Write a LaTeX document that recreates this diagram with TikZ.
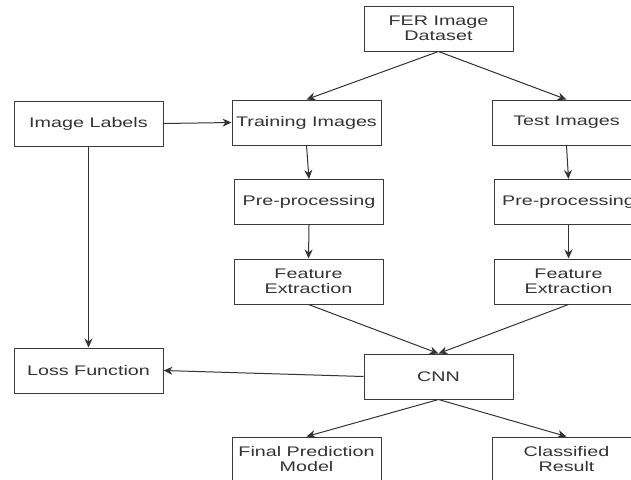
\documentclass[tikz,border=0pt]{standalone}
\usepackage{fontspec}
\setmainfont[FakeStretch=1.42]{Liberation Sans}
\usetikzlibrary{arrows.meta}
\definecolor{ink}{HTML}{333333}
\definecolor{edge}{HTML}{3A3A3A}
\begin{document}
\begin{tikzpicture}[x=1pt,y=-1pt,
  box/.style={draw=edge, line width=1pt, fill=white, minimum width=149pt, minimum height=45pt,
    inner sep=0pt, align=center, text=ink, font=\fontsize{13.9}{15}\selectfont},
  arr/.style={draw=ink, line width=1pt, -{Stealth[length=9pt,width=8pt]}}]
\useasboundingbox (0,0) rectangle (631,479);
\clip (0,0) rectangle (631,479);
\node[box] (fer) at (438.5,28.5) {FER Image\\Dataset};
\node[box] (lab) at (88.5,123.5) {Image Labels};
\node[box] (tr) at (306.5,122.5) {Training Images};
\node[box] (te) at (566.5,122.5) {Test Images};
\node[box] (ptr) at (309,202) {Pre-processing};
\node[box] (pte) at (568.5,202) {Pre-processing};
\node[box] (ftr) at (308.5,281.5) {Feature\\Extraction};
\node[box] (fte) at (568.5,281.5) {Feature\\Extraction};
\node[box] (cnn) at (438.5,376.5) {CNN};
\node[box] (loss) at (88.5,370.5) {Loss Function};
\node[box] (fin) at (306.5,459.5) {Final Prediction\\Model};
\node[box] (cls) at (566.5,459.5) {Classified\\Result};
\draw[arr] (fer.south) -- (tr.north);
\draw[arr] (fer.south) -- (te.north);
\draw[arr] (lab.east) -- (tr.west);
\draw[arr] (tr.south) -- (ptr.north);
\draw[arr] (te.south) -- (pte.north);
\draw[arr] (ptr.south) -- (ftr.north);
\draw[arr] (pte.south) -- (fte.north);
\draw[arr] (ftr.south) -- (cnn.north);
\draw[arr] (fte.south) -- (cnn.north);
\draw[arr] (lab.south) -- (loss.north);
\draw[arr] (cnn.west) -- (loss.east);
\draw[arr] (cnn.south) -- (fin.north);
\draw[arr] (cnn.south) -- (cls.north);
\end{tikzpicture}
\end{document}
